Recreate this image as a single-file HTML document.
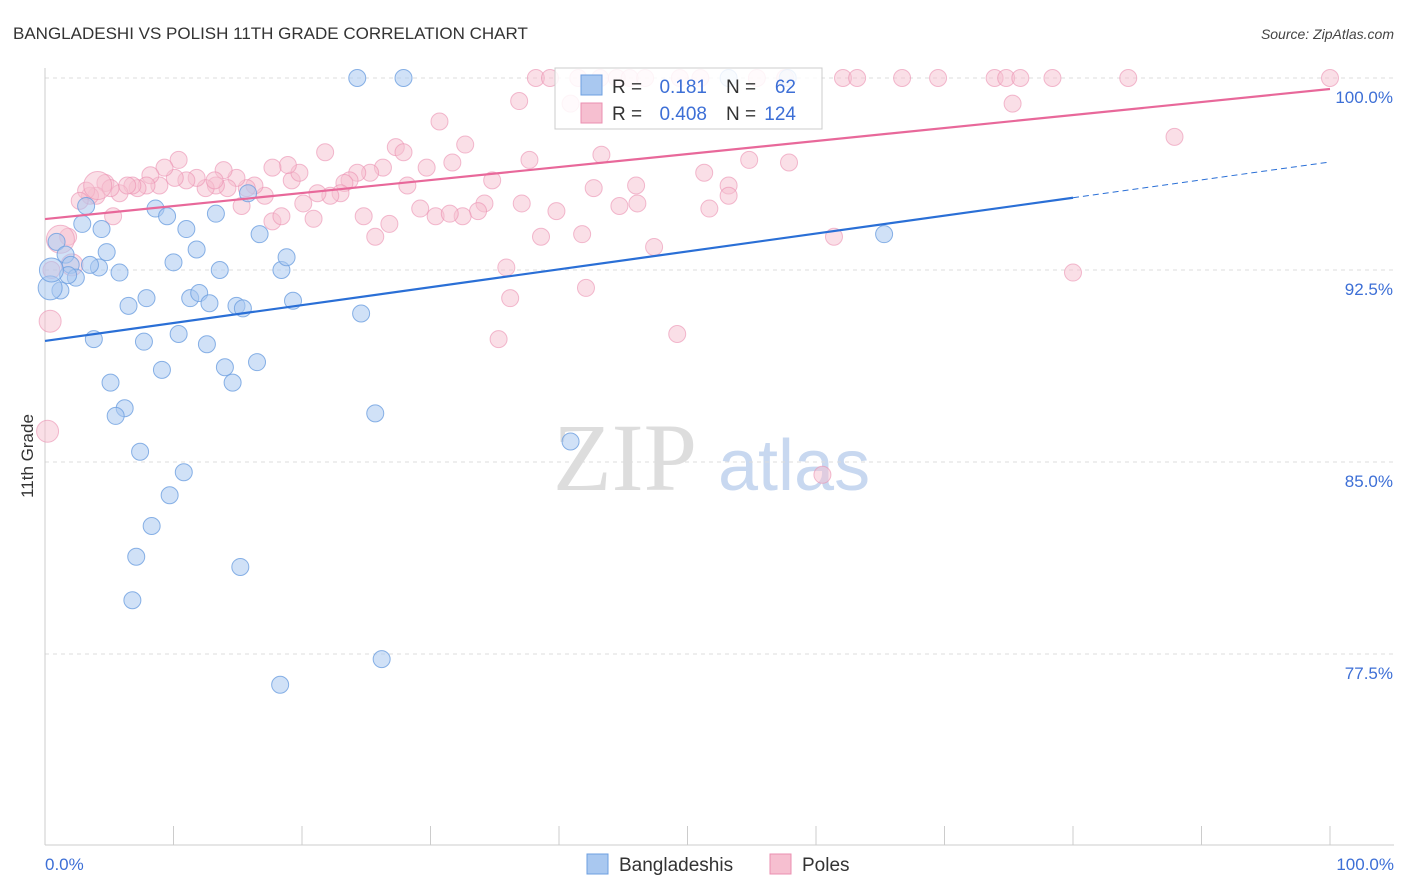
<!DOCTYPE html>
<html><head><meta charset="utf-8">
<style>
body{margin:0;background:#fff;font-family:"Liberation Sans",sans-serif;}
svg{display:block}
</style></head>
<body>
<svg id="chart" width="1406" height="892" xmlns="http://www.w3.org/2000/svg">
<text x="13" y="39" font-size="17" fill="#333">BANGLADESHI VS POLISH 11TH GRADE CORRELATION CHART</text>
<text x="1394" y="39" font-size="14" font-style="italic" fill="#444" text-anchor="end">Source: ZipAtlas.com</text>
<text x="553" y="490" font-size="96" font-family="Liberation Serif" fill="#ddd">ZIP</text>
<text x="718" y="490" font-size="72" fill="#c8d8f0">atlas</text>
<text transform="translate(33,456) rotate(-90)" font-size="17" fill="#333" text-anchor="middle">11th Grade</text>
<g id="grid"></g>
<g id="marks"></g>
<g>
<rect x="555" y="68" width="267" height="61" fill="#fff" fill-opacity="0.85" stroke="#ccc"/>
<rect x="581" y="75" width="21" height="20" fill="#a9c8f0" stroke="#6d9fe0"/>
<rect x="581" y="103" width="21" height="20" fill="#f6bfd0" stroke="#eb8fb0"/>
<text x="612" y="93" font-size="19" fill="#333">R =</text>
<text x="707" y="93" font-size="19" fill="#3d6fd6" text-anchor="end">0.181</text>
<text x="726" y="93" font-size="19" fill="#333">N =</text>
<text x="796" y="93" font-size="19" fill="#3d6fd6" text-anchor="end">62</text>
<text x="612" y="120" font-size="19" fill="#333">R =</text>
<text x="707" y="120" font-size="19" fill="#3d6fd6" text-anchor="end">0.408</text>
<text x="726" y="120" font-size="19" fill="#333">N =</text>
<text x="796" y="120" font-size="19" fill="#3d6fd6" text-anchor="end">124</text>
</g>
<g>
<rect x="587" y="854" width="21" height="20" fill="#a9c8f0" stroke="#6d9fe0"/>
<text x="619" y="871" font-size="19" fill="#333">Bangladeshis</text>
<rect x="770" y="854" width="21" height="20" fill="#f6bfd0" stroke="#eb8fb0"/>
<text x="802" y="871" font-size="19" fill="#333">Poles</text>
</g>
</svg>
<script>
const yTicks=[100,92.5,85,77.5];
const yTickLabels=["100.0%","92.5%","85.0%","77.5%"];
const xTicks=[0,10,20,30,40,50,60,70,80,90,100];
const blueX=[24.3,27.9,53.2,57.8,0.9,1.6,2.0,2.4,1.8,1.2,0.4,0.5,2.9,3.2,4.4,4.8,4.2,3.5,5.8,3.8,5.1,6.2,5.5,6.5,7.9,8.6,9.5,11.0,11.8,10.0,7.7,9.1,10.4,11.3,12.0,12.8,12.6,13.3,13.6,14.0,14.6,14.9,15.4,15.8,16.7,16.5,18.4,18.8,19.3,7.4,10.8,9.7,8.3,7.1,6.8,15.2,24.6,25.7,26.2,18.3,40.9,65.3];
const blueY=[100,100,100,100,93.6,93.1,92.7,92.2,92.3,91.7,91.8,92.5,94.3,95.0,94.1,93.2,92.6,92.7,92.4,89.8,88.1,87.1,86.8,91.1,91.4,94.9,94.6,94.1,93.3,92.8,89.7,88.6,90.0,91.4,91.6,91.2,89.6,94.7,92.5,88.7,88.1,91.1,91.0,95.5,93.9,88.9,92.5,93.0,91.3,85.4,84.6,83.7,82.5,81.3,79.6,80.9,90.8,86.9,77.3,76.3,85.8,93.9];
const pinkX=[38.2,39.3,41.5,43.2,44.5,45.5,46.7,49.4,51.0,55.4,57.6,62.1,63.2,66.7,69.5,73.9,74.8,75.9,78.4,84.3,100,36.9,40.9,75.3,87.9,30.7,32.7,27.3,27.9,21.8,37.7,43.3,54.8,57.9,51.3,53.2,34.8,42.7,46.0,44.7,46.1,51.7,53.2,37.1,39.8,34.2,33.7,30.4,32.5,31.5,29.2,28.2,29.7,31.7,26.3,25.3,24.3,23.7,23.3,23.0,22.2,21.2,20.9,20.1,19.2,19.8,18.9,17.7,17.1,16.3,15.7,15.3,14.9,14.2,13.3,12.5,11.8,11.0,10.4,10.1,9.3,8.9,8.2,7.9,7.2,6.8,5.8,6.4,5.3,4.7,4.0,3.5,3.2,2.7,5.1,13.9,13.2,17.7,18.4,24.8,25.7,26.8,38.6,41.8,47.4,35.9,36.2,42.1,35.3,49.2,61.4,80.0,60.5,0.5,1.8,2.1,0.4,0.2,1.2,4.1];
const pinkY=[100,100,100,100,100,100,100,100,100,100,100,100,100,100,100,100,100,100,100,100,100,99.1,99.0,99.0,97.7,98.3,97.4,97.3,97.1,97.1,96.8,97.0,96.8,96.7,96.3,95.8,96.0,95.7,95.8,95.0,95.1,94.9,95.4,95.1,94.8,95.1,94.8,94.6,94.6,94.7,94.9,95.8,96.5,96.7,96.5,96.3,96.3,96.0,95.9,95.5,95.4,95.5,94.5,95.1,96.0,96.3,96.6,96.5,95.4,95.8,95.7,95.0,96.1,95.7,95.8,95.7,96.1,96.0,96.8,96.1,96.5,95.8,96.2,95.8,95.7,95.8,95.5,95.8,94.6,95.9,95.4,95.4,95.6,95.2,95.7,96.4,96.0,94.4,94.6,94.6,93.8,94.3,93.8,93.9,93.4,92.6,91.4,91.8,89.8,90.0,93.8,92.4,84.5,92.5,93.8,92.7,90.5,86.2,93.7,95.8];
const bigPink=[115,116,117,118,119];
const blueTrend={intercept:89.73,slope:0.0699};
const pinkTrend={intercept:94.49,slope:0.0508};
const NS="http://www.w3.org/2000/svg";
const X0=45,X1=1330,YTOP=78,PX=25.6;
const sx=v=>X0+(X1-X0)*v/100;
const sy=v=>YTOP+(100-v)*PX;
function mk(t,a,p){const e=document.createElementNS(NS,t);for(const k in a)e.setAttribute(k,a[k]);p.appendChild(e);return e;}
const grid=document.getElementById('grid'),marks=document.getElementById('marks');
yTicks.forEach((t,i)=>{
 const l=mk('line',{x1:X0,x2:1394,y1:sy(t),y2:sy(t),stroke:'#ddd','stroke-dasharray':'4,4'},grid);
 
 
 const tx=mk('text',{x:1393,y:sy(t)+25,'font-size':17,fill:'#3d6fd6','text-anchor':'end'},grid);
 tx.textContent=yTickLabels[i];
 
 
});
const ax=mk('line',{x1:X0,x2:X0,y1:68,y2:845,stroke:'#ccc'},grid);


const bx=mk('line',{x1:X0,x2:1394,y1:845,y2:845,stroke:'#ccc'},grid);


xTicks.forEach(t=>{
 const l=mk('line',{x1:sx(t),x2:sx(t),y1:826,y2:845,stroke:'#ccc'},grid);
 
 
});
const xl0=mk('text',{x:45,y:870,'font-size':17,fill:'#3d6fd6'},grid);xl0.textContent='0.0%';


const xl1=mk('text',{x:1394,y:870,'font-size':17,fill:'#3d6fd6','text-anchor':'end'},grid);xl1.textContent='100.0%';


pinkX.forEach((v,i)=>{
 const r=bigPink.includes(i)?(i===118||i===119?14:11):8.5;
 const c=mk('circle',{cx:sx(v),cy:sy(pinkY[i]),r:r,fill:'#f6bfd0','fill-opacity':0.5,stroke:'#eb8fb0','stroke-opacity':0.6},marks);
 
 
});
blueX.forEach((v,i)=>{
 const r=(i===10||i===11)?12:8.5;
 const c=mk('circle',{cx:sx(v),cy:sy(blueY[i]),r:r,fill:'#a9c8f0','fill-opacity':0.55,stroke:'#6d9fe0','stroke-opacity':0.8},marks);
 
 
});
const bt=v=>blueTrend.intercept+blueTrend.slope*v, pt=v=>pinkTrend.intercept+pinkTrend.slope*v;
const b1=mk('line',{x1:sx(0),y1:sy(bt(0)),x2:sx(80),y2:sy(bt(80)),stroke:'#2a6fd6','stroke-width':2.2},marks);


const b2=mk('line',{x1:sx(80),y1:sy(bt(80)),x2:sx(100),y2:sy(bt(100)),stroke:'#2a6fd6','stroke-width':1,'stroke-dasharray':'6,4'},marks);


const p1=mk('line',{x1:sx(0),y1:sy(pt(0)),x2:sx(100),y2:sy(pt(100)),stroke:'#e8689a','stroke-width':2.2},marks);


</script>
</body></html>
